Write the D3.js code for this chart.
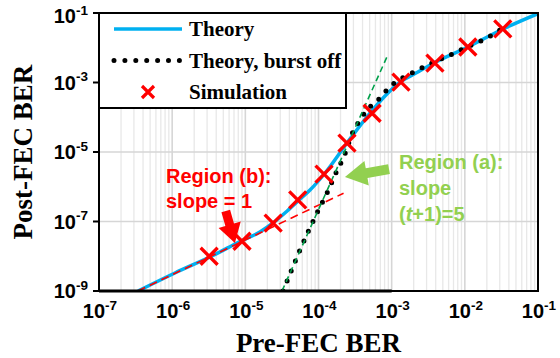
<!DOCTYPE html>
<html>
<head>
<meta charset="utf-8">
<script src="https://cdn.jsdelivr.net/npm/d3@7"></script>
<style>
  body { margin: 0; background: #fff; }
  svg { display: block; }
  .tick-label { font-family: "Liberation Sans", Arial, sans-serif; font-weight: bold; font-size: 20px; fill: #000; }
  .title { font-family: "Liberation Serif", "Times New Roman", serif; font-weight: bold; fill: #000; }
  .legend-text { font-family: "Liberation Serif", "Times New Roman", serif; font-weight: bold; font-size: 21px; fill: #000; }
  .note { font-family: "Liberation Sans", Arial, sans-serif; font-weight: bold; font-size: 20px; }
</style>
</head>
<body>
<svg id="chart" width="560" height="358"></svg>
<script>
"use strict";

// data (log-log axes)
const theoryX = [3.41e-7, 1.09e-6, 3.61e-6, 8.45e-6, 1.58e-5, 2.39e-5, 3.6e-5, 5.25e-5, 7.66e-5, 1.23e-4, 2.45e-4, 5.06e-4, 8.11e-4, 1.30e-3, 2.15e-3, 3.78e-3, 1.10e-2, 3.32e-2, 9.68e-2];
const theoryY = [1.0e-9, 3.3e-9, 1.05e-8, 2.65e-8, 4.99e-8, 9.06e-8, 1.87e-7, 3.89e-7, 8.05e-7, 2.49e-6, 1.82e-5, 1.32e-4, 4.09e-4, 1.03e-3, 1.87e-3, 3.64e-3, 1.05e-2, 3.47e-2, 9.35e-2];

const burstOffX = [3.27e-5, 4.35e-5, 5.58e-5, 7.41e-5, 9.84e-5, 1.31e-4, 1.73e-4, 2.30e-4, 2.87e-4, 3.69e-4, 4.60e-4, 6.50e-4, 8.11e-4, 1.01e-3, 1.78e-3, 3.13e-3, 5.89e-3, 1.07e-2, 2.01e-2, 3.02e-2];
const burstOffY = [1.0e-9, 4.3e-9, 1.51e-8, 5.69e-8, 2.0e-7, 6.61e-7, 2.49e-6, 8.75e-6, 3.30e-5, 8.34e-5, 1.62e-4, 3.13e-4, 5.33e-4, 8.47e-4, 1.76e-3, 3.19e-3, 5.79e-3, 1.05e-2, 1.91e-2, 3.24e-2];

const simX = [3.2e-6, 9.0e-6, 2.4e-5, 5.2e-5, 1.19e-4, 2.45e-4, 5.4e-4, 1.34e-3, 3.9e-3, 1.1e-2, 3.3e-2];
const simY = [1.0e-8, 2.7e-8, 9.0e-8, 4.2e-7, 2.3e-6, 1.8e-5, 1.3e-4, 1.03e-3, 3.6e-3, 1.05e-2, 3.5e-2];

// guide lines: slope 1 (region b) and slope 5 (region a)
const slope1X = [3.4e-7, 2.2e-4];
const slope1Y = [1.0e-9, 6.5e-7];
const slope5X = [3.17e-5, 8.6e-4];
const slope5Y = [1.0e-9, 5.4e-3];

const xTickExp = [-7, -6, -5, -4, -3, -2, -1];
const yTickExp = [-9, -7, -5, -3, -1];

const legendItems = ["Theory", "Theory, burst off", "Simulation"];

// layout
const plot = { left: 99, right: 538, top: 13, bottom: 291 };
const colors = { theory: "#00B0F0", sim: "#FF0000", slope1: "#FF0000", slope5: "#00A04A", noteA: "#92D050", noteB: "#FF0000" };

const svg = d3.select("#chart");

// scales
let scaleX = d3.scaleLog().domain([1e-7, 1e-1]).range([plot.left, plot.right]);
let scaleY = d3.scaleLog().domain([1e-9, 1e-1]).range([plot.bottom, plot.top]);

svg.append("defs").append("clipPath").attr("id", "clip")
.append("rect")
.attr("x", plot.left).attr("y", plot.top)
.attr("width", plot.right - plot.left).attr("height", plot.bottom - plot.top);


// grid: minor vertical
let minorX = [];
for (let e = -7; e < -1; e++) for (let m = 2; m <= 9; m++) minorX.push(m * Math.pow(10, e));
svg.append("g").attr("class", "xMinorGrid")
.selectAll("line").data(minorX).join("line")
.attr("x1", d => scaleX(d)).attr("x2", d => scaleX(d))
.attr("y1", plot.top).attr("y2", plot.bottom)
.attr("stroke", "#e8e8e8").attr("stroke-width", 1.3);

// grid: major vertical
svg.append("g").attr("class", "xGrid")
.selectAll("line").data(xTickExp.slice(1, -1)).join("line")
.attr("x1", d => scaleX(Math.pow(10, d))).attr("x2", d => scaleX(Math.pow(10, d)))
.attr("y1", plot.top).attr("y2", plot.bottom)
.attr("stroke", "#d6d6d6").attr("stroke-width", 1.6);

// grid: horizontal
svg.append("g").attr("class", "yGrid")
.selectAll("line").data(yTickExp.slice(1, -1)).join("line")
.attr("x1", plot.left).attr("x2", plot.right)
.attr("y1", d => scaleY(Math.pow(10, d))).attr("y2", d => scaleY(Math.pow(10, d)))
.attr("stroke", "#d6d6d6").attr("stroke-width", 1.6);


// line generator
let line = d3.line()
.x(d => scaleX(d[0]))
.y(d => scaleY(d[1]))
.curve(d3.curveMonotoneX);

let plotArea = svg.append("g").attr("clip-path", "url(#clip)");

// theory (blue)
plotArea.append("path")
.datum(theoryX.map((x, i) => [x, theoryY[i]]))
.attr("d", line)
.attr("fill", "none")
.attr("stroke", colors.theory)
.attr("stroke-width", 3.5);

// slope 1 guide (red dashed)
plotArea.append("path")
.datum(slope1X.map((x, i) => [x, slope1Y[i]]))
.attr("d", d3.line().x(d => scaleX(d[0])).y(d => scaleY(d[1])))
.attr("fill", "none")
.attr("stroke", colors.slope1)
.attr("stroke-width", 1.6)
.attr("stroke-dasharray", "8,5");

// theory, burst off (black dotted)
plotArea.append("path")
.datum(burstOffX.map((x, i) => [x, burstOffY[i]]))
.attr("d", line)
.attr("fill", "none")
.attr("stroke", "#000")
.attr("stroke-width", 5)
.attr("stroke-linecap", "round")
.attr("stroke-dasharray", "0,10.8");

// slope 5 guide (green dashed)
plotArea.append("path")
.datum(slope5X.map((x, i) => [x, slope5Y[i]]))
.attr("d", d3.line().x(d => scaleX(d[0])).y(d => scaleY(d[1])))
.attr("fill", "none")
.attr("stroke", colors.slope5)
.attr("stroke-width", 1.6)
.attr("stroke-dasharray", "6,4");

// simulation markers
const cross = 8.5;
svg.append("g").attr("class", "sim")
.selectAll("path").data(simX.map((x, i) => [x, simY[i]])).join("path")
.attr("d", d => {
    let cx = scaleX(d[0]), cy = scaleY(d[1]);
    return `M${cx - cross},${cy - cross}L${cx + cross},${cy + cross}M${cx - cross},${cy + cross}L${cx + cross},${cy - cross}`;
})
.attr("stroke", colors.sim)
.attr("stroke-width", 3.3)
.attr("fill", "none");


// frame
svg.append("rect")
.attr("x", plot.left).attr("y", plot.top)
.attr("width", plot.right - plot.left).attr("height", plot.bottom - plot.top)
.attr("fill", "none").attr("stroke", "#000").attr("stroke-width", 2);
// heavier bottom edge from 1e-7 to 1e-3
svg.append("line")
.attr("x1", scaleX(1e-7)).attr("x2", scaleX(1e-3))
.attr("y1", plot.bottom).attr("y2", plot.bottom)
.attr("stroke", "#000").attr("stroke-width", 3);

// y ticks
svg.append("g").selectAll("line").data(yTickExp).join("line")
.attr("x1", plot.left - 6).attr("x2", plot.left)
.attr("y1", d => scaleY(Math.pow(10, d))).attr("y2", d => scaleY(Math.pow(10, d)))
.attr("stroke", "#000").attr("stroke-width", 2);


// tick labels
function powLabel(sel) {
    sel.append("tspan").text("10");
    sel.append("tspan").text(d => "-" + Math.abs(d))
    .attr("font-size", 13.5).attr("dy", -8.5);
}

svg.append("g").selectAll("text").data(xTickExp).join("text")
.attr("class", "tick-label")
.attr("font-size", 21.5)
.attr("x", d => scaleX(Math.pow(10, d)) + 1)
.attr("y", 318)
.attr("text-anchor", "middle")
.call(powLabel);

svg.append("g").selectAll("text").data(yTickExp).join("text")
.attr("class", "tick-label")
.attr("x", 88)
.attr("y", d => Math.max(scaleY(Math.pow(10, d)) + 7, 23))
.attr("text-anchor", "end")
.call(powLabel);


// axis titles
svg.append("text")
.attr("class", "title")
.attr("x", (plot.left + plot.right) / 2)
.attr("y", 352)
.attr("text-anchor", "middle")
.attr("font-size", 27)
.text("Pre-FEC BER");

svg.append("text")
.attr("class", "title")
.attr("transform", `translate(32, ${(plot.top + plot.bottom) / 2}) rotate(-90)`)
.attr("text-anchor", "middle")
.attr("font-size", 27)
.text("Post-FEC BER");


// legend
let legend = svg.append("g").attr("class", "legend");
legend.append("rect")
.attr("x", plot.left).attr("y", plot.top)
.attr("width", 247).attr("height", 95)
.attr("fill", "#fff").attr("stroke", "#000").attr("stroke-width", 2);

let legendItem = legend.selectAll("g.legend_item").data(legendItems).join("g")
.attr("class", "legend_item")
.attr("transform", (d, i) => `translate(${plot.left + 15}, ${plot.top + 16 + i * 31.5})`);

legendItem.append("text")
.attr("class", "legend-text")
.attr("x", 75).attr("y", 7)
.text(d => d);

legend.select("g.legend_item:nth-child(2)")
.append("line")
.attr("x1", 0).attr("x2", 68).attr("y1", 0).attr("y2", 0)
.attr("stroke", colors.theory).attr("stroke-width", 3.5);

legend.select("g.legend_item:nth-child(3)")
.append("line")
.attr("x1", 0).attr("x2", 68).attr("y1", 0).attr("y2", 0)
.attr("stroke", "#000").attr("stroke-width", 5)
.attr("stroke-linecap", "round").attr("stroke-dasharray", "0,10.9");

legend.select("g.legend_item:nth-child(4)")
.append("path")
.attr("d", "M28,-6L40,6M28,6L40,-6")
.attr("stroke", colors.sim).attr("stroke-width", 3.2).attr("fill", "none");


// block arrows for the annotations
function blockArrow(x0, y0, x1, y1, shaft, head, headLen) {
    let dx = x1 - x0, dy = y1 - y0, len = Math.hypot(dx, dy);
    let ux = dx / len, uy = dy / len, nx = -uy, ny = ux;
    let bx = x1 - ux * headLen, by = y1 - uy * headLen;
    let p = [
        [x0 + nx * shaft / 2, y0 + ny * shaft / 2],
        [bx + nx * shaft / 2, by + ny * shaft / 2],
        [bx + nx * head / 2, by + ny * head / 2],
        [x1, y1],
        [bx - nx * head / 2, by - ny * head / 2],
        [bx - nx * shaft / 2, by - ny * shaft / 2],
        [x0 - nx * shaft / 2, y0 - ny * shaft / 2]
    ];
    return "M" + p.map(q => q.join(",")).join("L") + "Z";
}

// region (b)
svg.append("path")
.attr("d", blockArrow(scaleX(5.4e-6), scaleY(2.0e-7), scaleX(7.2e-6), scaleY(2.4e-8), 9, 23, 19))
.attr("fill", colors.noteB);

let noteB = svg.append("text").attr("class", "note").attr("fill", colors.noteB);
noteB.append("tspan").attr("x", 166).attr("y", 183).text("Region (b):");
noteB.append("tspan").attr("x", 166).attr("y", 208).text("slope = 1");

// region (a)
svg.append("path")
.attr("d", blockArrow(scaleX(9.2e-4), scaleY(3.2e-6), scaleX(2.3e-4), scaleY(1.9e-6), 10, 25, 22))
.attr("fill", colors.noteA);

let noteA = svg.append("text").attr("class", "note").attr("fill", colors.noteA);
noteA.append("tspan").attr("x", 399).attr("y", 169).text("Region (a):");
noteA.append("tspan").attr("x", 399).attr("y", 195).text("slope");
let l3 = noteA.append("tspan").attr("x", 399).attr("y", 221);
l3.append("tspan").text("(");
l3.append("tspan").attr("font-style", "italic").text("t");
l3.append("tspan").text("+1)=5");
</script>
</body>
</html>
